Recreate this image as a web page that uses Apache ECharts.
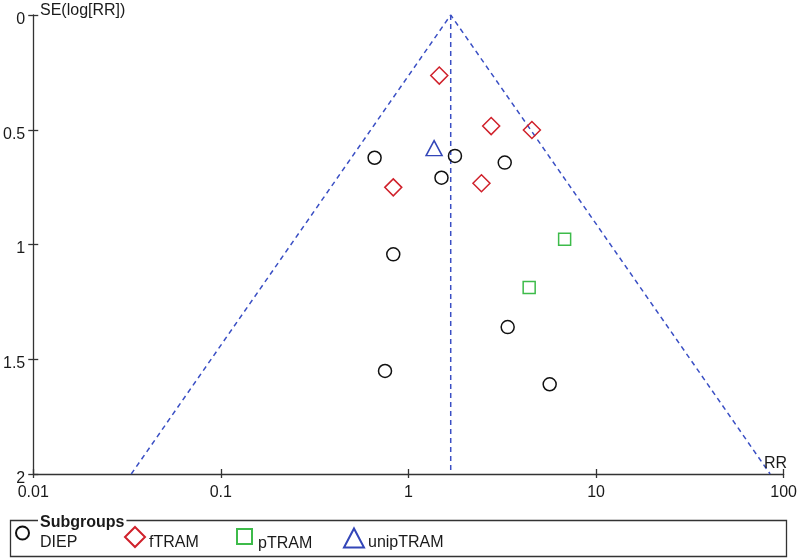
<!DOCTYPE html>
<html>
<head>
<meta charset="utf-8">
<script src="https://cdn.jsdelivr.net/npm/echarts@6/dist/echarts.min.js"></script>
<style>
html,body{margin:0;padding:0;background:#fff;}
#chart{width:800px;height:558px;}
</style>
</head>
<body>
<div id="chart"></div>
<script>
// ---- data ----
const xTickLabels = ['0.01', '0.1', '1', '10', '100'];
const yTickLabels = ['0', '0.5', '1', '1.5', '2'];

const diepRR = [0.66, 1.77, 3.26, 1.50, 0.83, 3.38, 0.75, 5.66];
const diepSE = [0.622, 0.614, 0.643, 0.709, 1.043, 1.36, 1.551, 1.609];

const ftramRR = [1.46, 2.76, 4.55, 0.83, 2.45];
const ftramSE = [0.264, 0.484, 0.501, 0.751, 0.733];

const ptramRR = [6.8, 4.4];
const ptramSE = [0.977, 1.187];

const uniptramRR = [1.37];
const uniptramSE = [0.58];

const pooledRR = 1.68;
const funnelRR = [0.0333, 1.68, 84.7];
const funnelSE = [2, 0, 2];
const pooledLineSE = [0, 2];

const zip = (a, b) => a.map((v, i) => [v, b[i]]);

const chart = echarts.init(document.getElementById('chart'));
const font = 'Liberation Sans, Arial, sans-serif';
const txt = '#1a1a1a';
const axisCol = '#333';
const blue = '#3a4fc4';

function hollow(name, data, symbol, size, color) {
  return {
    name: name, type: 'scatter', data: data, symbol: symbol, symbolSize: size,
    xAxisIndex: 0, yAxisIndex: 0, z: 5,
    itemStyle: { color: 'rgba(0,0,0,0)', borderColor: color, borderWidth: 1.5, opacity: 1 },
    emphasis: { disabled: true }
  };
}

function legendAt(name, left, w, h, gap, cy, padTop) {
  return {
    data: [name], left: left, top: cy - h / 2, itemWidth: w, itemHeight: h,
    itemGap: 0, padding: 0, selectedMode: false,
    formatter: function (n) { return '{t|' + n + '}'; },
    textStyle: {
      fontFamily: font, fontSize: 16, color: txt,
      rich: { t: { fontFamily: font, fontSize: 16, color: txt, padding: [padTop, 0, 0, gap - 5] } }
    }
  };
}

chart.setOption({
  animation: false,
  backgroundColor: '#fff',
  grid: { left: 31, right: 13, top: 15, bottom: 84, containLabel: false },
  xAxis: [{
    type: 'log', logBase: 10, min: 0.01, max: 100, interval: 1, position: 'bottom',
    axisLine: { show: true, onZero: false, lineStyle: { color: axisCol, width: 1.3 } },
    axisTick: { show: true, inside: false, length: 4, lineStyle: { color: axisCol, width: 1.3 } },
    axisLabel: {
      fontFamily: font, fontSize: 16, color: txt, margin: 11,
      formatter: function (v) {
        const e = Math.round(Math.log10(v));
        return xTickLabels[e + 2];
      }
    },
    splitLine: { show: false }, minorTick: { show: false }
  }, {
    type: 'log', logBase: 10, min: 0.01, max: 100, interval: 1, position: 'bottom',
    axisLine: { show: false, onZero: false },
    axisTick: { show: true, inside: true, length: 5, lineStyle: { color: axisCol, width: 1.3 } },
    axisLabel: { show: false }, splitLine: { show: false }
  }],
  yAxis: [{
    type: 'value', inverse: true, min: 0, max: 2, interval: 0.5, position: 'left',
    axisLine: { show: true, onZero: false, lineStyle: { color: axisCol, width: 1.3 } },
    axisTick: { show: true, inside: false, length: 5, lineStyle: { color: axisCol, width: 1.3 } },
    axisLabel: {
      fontFamily: font, fontSize: 16, color: txt, margin: 8,
      formatter: function (v) { return '{a|' + yTickLabels[Math.round(v * 2)] + '}'; },
      rich: { a: { fontFamily: font, fontSize: 16, color: txt, padding: [9, 0, 0, 0] } }
    },
    splitLine: { show: false }
  }, {
    type: 'value', inverse: true, min: 0, max: 2, interval: 0.5, position: 'left',
    axisLine: { show: false, onZero: false },
    axisTick: { show: true, inside: true, length: 5, lineStyle: { color: axisCol, width: 1.3 } },
    axisLabel: { show: false }, splitLine: { show: false }
  }],
  legend: [
    legendAt('DIEP', 15, 13, 13, 11, 532, 20),
    legendAt('fTRAM', 124, 20, 20, 4, 536, 11),
    legendAt('pTRAM', 236, 15, 15, 6, 535.5, 15),
    legendAt('unipTRAM', 343, 20, 19, 4, 537, 9)
  ],
  graphic: [
    { type: 'rect', z: 0, shape: { x: 10.5, y: 520.5, width: 776, height: 36 },
      style: { fill: 'none', stroke: axisCol, lineWidth: 1.3 } },
    { type: 'text', z: 10, left: 38, top: 515,
      style: { text: 'Subgroups', font: 'bold 16px ' + font, fill: txt,
               backgroundColor: '#fff', padding: [0, 2, 0, 2] } },
    { type: 'text', z: 10, left: 40, top: 3,
      style: { text: 'SE(log[RR])', font: '16px ' + font, fill: txt } },
    { type: 'text', z: 10, left: 764, top: 456,
      style: { text: 'RR', font: '16px ' + font, fill: txt } }
  ],
  series: [
    {
      name: 'funnel', type: 'line', data: zip(funnelRR, funnelSE), symbol: 'none', z: 2,
      lineStyle: { color: blue, width: 1.5, type: [5, 4] }, silent: true
    },
    {
      name: 'pooled', type: 'line', data: zip([pooledRR, pooledRR], pooledLineSE), symbol: 'none', z: 2,
      lineStyle: { color: blue, width: 1.5, type: [5, 4] }, silent: true
    },
    hollow('DIEP', zip(diepRR, diepSE), 'circle', 13, '#111'),
    hollow('fTRAM', zip(ftramRR, ftramSE), 'diamond', 17, '#d0212b'),
    hollow('pTRAM', zip(ptramRR, ptramSE), 'rect', 12, '#3dbb4a'),
    hollow('unipTRAM', zip(uniptramRR, uniptramSE), 'triangle', [16, 15], '#3346b8')
  ]
});
</script>
</body>
</html>
